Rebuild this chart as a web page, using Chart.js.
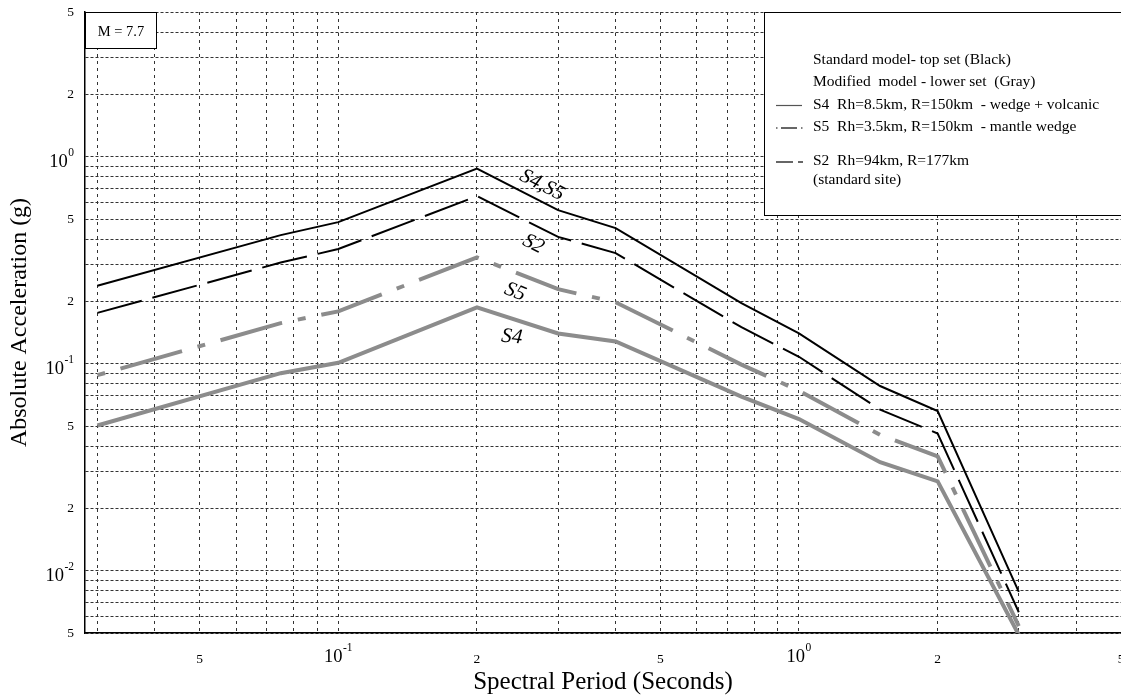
<!DOCTYPE html>
<html>
<head>
<meta charset="utf-8">
<script src="https://cdn.jsdelivr.net/npm/chart.js@4.4.1/dist/chart.umd.min.js"></script>
<style>
  html, body { margin: 0; padding: 0; background: #fff; }
</style>
</head>
<body>
<canvas id="spectra" width="1121" height="696"></canvas>
<script>
// spectral periods (s) and absolute acceleration (g) for each model
const periods = [0.03, 0.075, 0.1, 0.2, 0.3, 0.4, 0.75, 1.0, 1.5, 2.0, 3.0];
const stdS4S5 = [0.238, 0.418, 0.483, 0.877, 0.552, 0.452, 0.196, 0.140, 0.078, 0.059, 0.0079];
const stdS2 = [0.176, 0.308, 0.358, 0.645, 0.41, 0.342, 0.150, 0.108, 0.060, 0.046, 0.0063];
const modS5 = [0.088, 0.157, 0.179, 0.326, 0.229, 0.198, 0.099, 0.074, 0.0453, 0.0357, 0.0054];
const modS4 = [0.0503, 0.090, 0.101, 0.187, 0.140, 0.128, 0.0693, 0.054, 0.0334, 0.027, 0.0049];

// grid lines and labelled ticks
const xGrid = [0.03, 0.04, 0.05, 0.06, 0.07, 0.08, 0.09, 0.1, 0.2, 0.3, 0.4, 0.5, 0.6, 0.7, 0.8, 0.9, 1, 2, 3, 4, 5];
const yGrid = [0.005, 0.006, 0.007, 0.008, 0.009, 0.01, 0.02, 0.03, 0.04, 0.05, 0.06, 0.07, 0.08, 0.09,
  0.1, 0.2, 0.3, 0.4, 0.5, 0.6, 0.7, 0.8, 0.9, 1, 2, 3, 4, 5];
const xLabelled = [0.05, 0.2, 0.5, 2, 5];
const yLabelled = [0.005, 0.02, 0.05, 0.2, 0.5, 2, 5];
const xDecades = [0.1, 1];
const yDecades = [0.01, 0.1, 1];

const legendHeader = ['Standard model- top set (Black)', 'Modified  model - lower set  (Gray)'];
const legendItems = [
  'S4  Rh=8.5km, R=150km  - wedge + volcanic',
  'S5  Rh=3.5km, R=150km  - mantle wedge',
  'S2  Rh=94km, R=177km',
];
const legendNote = '(standard site)';
const magnitudeText = 'M = 7.7';

// curve names placed in data space: [text, period, accel, angle in degrees]
const curveNames = [
  ['S4,S5', 0.277, 0.728, 27],
  ['S2', 0.265, 0.378, 27],
  ['S5', 0.242, 0.222, 22],
  ['S4', 0.238, 0.1345, 6],
];

const SERIF = "'Liberation Serif', 'Times New Roman', serif";
const GRAY = '#8c8c8c';

function points(values) {
  return periods.map((p, i) => ({ x: p, y: values[i] }));
}

function mantissa(v) {
  const e = Math.floor(Math.log10(v) + 1e-9);
  return String(Math.round(v / Math.pow(10, e)));
}

function isIn(list, v) {
  return list.some(l => Math.abs(l - v) / l < 1e-6);
}

// decade labels with raised exponents, legend box, magnitude box, curve names
const decorations = {
  id: 'decorations',
  afterDraw(chart) {
    const { ctx, chartArea, scales: { x, y } } = chart;
    ctx.save();
    ctx.fillStyle = '#000';
    ctx.textBaseline = 'middle';
    ctx.textAlign = 'left';

    const big = `18.5px ${SERIF}`;
    const small = `11.5px ${SERIF}`;
    const drawPow = (exp, left, baseY) => {
      ctx.font = big;
      const wb = ctx.measureText('10').width;
      ctx.fillText('10', left, baseY);
      ctx.font = small;
      ctx.fillText(exp, left + wb + 0.5, baseY - 9);
    };
    const powWidth = exp => {
      ctx.font = big;
      const wb = ctx.measureText('10').width;
      ctx.font = small;
      return wb + 0.5 + ctx.measureText(exp).width;
    };

    yDecades.forEach(d => {
      const exp = String(Math.round(Math.log10(d)));
      const py = y.getPixelForValue(d);
      drawPow(exp, chartArea.left - 11 - powWidth(exp), py + 5);
    });
    xDecades.forEach(d => {
      const exp = String(Math.round(Math.log10(d)));
      const px = x.getPixelForValue(d);
      drawPow(exp, px - powWidth(exp) / 2, chartArea.bottom + 24);
    });

    // magnitude box
    ctx.fillStyle = '#fff';
    ctx.fillRect(chartArea.left, chartArea.top, 71, 36);
    ctx.strokeStyle = '#000';
    ctx.lineWidth = 1;
    ctx.strokeRect(chartArea.left + 0.5, chartArea.top + 0.5, 71, 36);
    ctx.fillStyle = '#000';
    ctx.font = `14.5px ${SERIF}`;
    ctx.textAlign = 'center';
    ctx.fillText(magnitudeText, chartArea.left + 36, chartArea.top + 20);

    // legend box
    const lx = chartArea.right - 357;
    const ly = chartArea.top;
    ctx.fillStyle = '#fff';
    ctx.fillRect(lx, ly, 370, 203);
    ctx.strokeRect(lx + 0.5, ly + 0.5, 370, 203);
    ctx.fillStyle = '#000';
    ctx.textAlign = 'left';
    ctx.font = `15.5px ${SERIF}`;
    const tx = lx + 49;
    ctx.fillText(legendHeader[0], tx, ly + 48);
    ctx.fillText(legendHeader[1], tx, ly + 70);
    ctx.fillText(legendItems[0], tx, ly + 93);
    ctx.fillText(legendItems[1], tx, ly + 115);
    ctx.fillText(legendItems[2], tx, ly + 149);
    ctx.fillText(legendNote, tx, ly + 168);

    const sx = lx + 12;
    const seg = (x1, x2, yy) => {
      ctx.beginPath();
      ctx.moveTo(sx + x1, yy);
      ctx.lineTo(sx + x2, yy);
      ctx.stroke();
    };
    ctx.lineWidth = 1.2;
    ctx.strokeStyle = '#555';
    seg(0, 26, ly + 93.5);
    ctx.strokeStyle = '#000';
    seg(0, 1.5, ly + 116);
    seg(5, 21, ly + 116);
    seg(25, 26.5, ly + 116);
    seg(0, 17, ly + 150);
    seg(22, 27, ly + 150);

    // curve names
    ctx.font = `italic 21px ${SERIF}`;
    ctx.textAlign = 'center';
    curveNames.forEach(([text, px, py, ang]) => {
      ctx.save();
      ctx.translate(x.getPixelForValue(px), y.getPixelForValue(py));
      ctx.rotate(ang * Math.PI / 180);
      ctx.fillText(text, 0, 0);
      ctx.restore();
    });
    ctx.restore();
  },
};

new Chart(document.getElementById('spectra'), {
  type: 'line',
  data: {
    datasets: [
      {
        label: 'S4,S5 standard',
        data: points(stdS4S5),
        borderColor: '#000',
        borderWidth: 2,
      },
      {
        label: 'S2 standard',
        data: points(stdS2),
        borderColor: '#000',
        borderWidth: 2,
        borderDash: [46, 11],
      },
      {
        label: 'S5 modified',
        data: points(modS5),
        borderColor: GRAY,
        borderWidth: 4,
        borderDash: [64, 16, 8, 16],
        borderDashOffset: 80,
      },
      {
        label: 'S4 modified',
        data: points(modS4),
        borderColor: GRAY,
        borderWidth: 4,
      },
    ],
  },
  options: {
    responsive: false,
    animation: false,
    devicePixelRatio: 1,
    layout: { padding: { top: 12, right: 0, left: 0, bottom: 0 } },
    elements: {
      point: { radius: 0 },
      line: { tension: 0, fill: false },
    },
    plugins: {
      legend: { display: false },
      tooltip: { enabled: false },
    },
    scales: {
      x: {
        type: 'logarithmic',
        min: 0.0282,
        max: 5,
        afterBuildTicks: scale => {
          scale.ticks = xGrid.map(v => ({ value: v }));
        },
        afterFit: scale => {
          scale.height = 63;
          scale.paddingLeft = 0;
          scale.paddingRight = 0;
        },
        grid: { color: '#333', lineWidth: 1, drawTicks: false },
        border: { display: true, color: '#000', width: 1.5, dash: [3, 4] },
        ticks: {
          autoSkip: false,
          maxRotation: 0,
          padding: 18,
          color: '#000',
          font: { family: SERIF, size: 13.5 },
          callback: v => (isIn(xLabelled, v) ? mantissa(v) : ''),
        },
        title: {
          display: true,
          text: 'Spectral Period (Seconds)',
          color: '#000',
          font: { family: SERIF, size: 25, lineHeight: 1 },
          padding: { top: 0, bottom: 1 },
        },
      },
      y: {
        type: 'logarithmic',
        min: 0.005,
        max: 5,
        afterBuildTicks: scale => {
          scale.ticks = yGrid.map(v => ({ value: v }));
        },
        afterFit: scale => {
          scale.width = 85;
          scale.paddingTop = 0;
          scale.paddingBottom = 0;
        },
        grid: { color: '#333', lineWidth: 1, drawTicks: false },
        border: { display: true, color: '#000', width: 1.5, dash: [3, 2] },
        ticks: {
          autoSkip: false,
          padding: 11,
          color: '#000',
          font: { family: SERIF, size: 13.5 },
          callback: v => (isIn(yLabelled, v) ? mantissa(v) : ''),
        },
        title: {
          display: true,
          text: 'Absolute Acceleration (g)',
          color: '#000',
          font: { family: SERIF, size: 24, lineHeight: 1 },
          padding: { top: 8, bottom: 0 },
        },
      },
    },
  },
  plugins: [decorations],
});
</script>
</body>
</html>
